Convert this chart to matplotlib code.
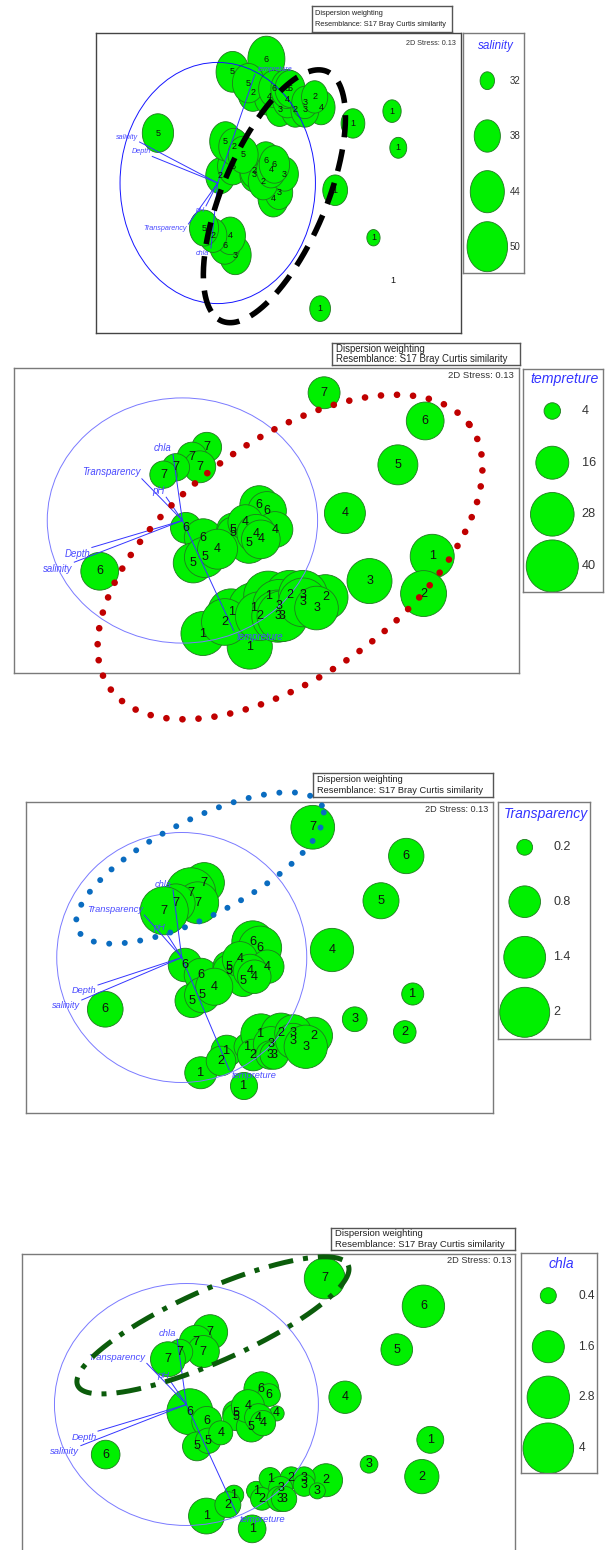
import numpy as np
import matplotlib.pyplot as plt
from matplotlib.path import Path
from matplotlib.patches import Ellipse

plt.rcParams['font.family'] = ['Liberation Sans', 'DejaVu Sans']

W, H = 610, 1550

# ---------------- MDS configuration (shared by all four plots) ----------------
mds_x = [1.048, 0.180, 0.072, 0.128, -0.048, -0.140,
         1.796, 0.026, 0.154, 0.568, 0.626, -0.612,
         1.594, 0.080, 0.164, 0.376, 0.376, 0.492,
         1.202, 0.260, 0.466, 0.684, 0.546, 0.580,
         1.848, 0.152, 0.360, 0.528, 0.634, 0.498,
         1.784, 0.314, 0.572, 0.794, 1.058,
         1.384, 0.714, 0.706, 0.740, 0.892, 0.892, 0.992]
mds_y = [1.042, 0.598, 0.518, 0.438, 0.434, 0.374,
         0.812, -0.060, -0.140, 0.126, 0.078, -0.414,
         0.454, -0.346, -0.300, -0.074, -0.106, -0.186,
         0.060, -0.234, -0.014, -0.074, -0.108, -0.154,
         -0.292, -0.922, -0.748, -0.714, -0.612, -1.028,
         -0.596, -0.828, -0.780, -0.606, -0.626,
         -0.494, -0.694, -0.780, -0.780, -0.606, -0.668, -0.714]
site = ['7'] * 6 + ['6'] * 6 + ['5'] * 6 + ['4'] * 6 + ['1'] * 6 + ['2'] * 5 + ['3'] * 7
site_p1 = ['1', '3', '6', '4', '2', '5',
           '1', '2', '6', '4', '3', '5',
           '1', '5', '2', '3', '2', '6',
           '1', '5', '2', '3', '4', '6',
           '1', '5', '2', '4', '3', '6',
           '1', '5', '6', '2', '4',
           '1', '4', '5', '5', '3', '3', '2']

salinity = [34.8, 42, 41, 41, 39, 40,
            29.4, 40, 41, 41, 39, 41.7,
            31.6, 42, 40.7, 40, 40, 41,
            37.1, 40.7, 40.7, 39, 40, 41,
            33.0, 43.1, 40.7, 40.7, 39.2, 46.6,
            33.6, 42.2, 40.7, 39.2, 39.2,
            36.5, 40.7, 42, 40.7, 39.2, 38, 38]
tempreture = [15, 13, 13, 15, 11, 11,
              21, 14, 21, 22, 22, 21,
              23.5, 23.5, 24, 16, 16, 23.5,
              24.7, 23.5, 18, 19, 22, 22,
              28.5, 28.5, 32, 38, 35, 30,
              31, 32, 35, 35, 30,
              29.8, 40, 40, 38, 35, 35, 28]
transparency = [1.53, 1.3, 2.0, 1.4, 1.2, 1.85,
                1.0, 0.9, 0.9, 1.4, 1.5, 1.02,
                1.04, 0.9, 1.0, 0.8, 0.8, 0.8,
                1.5, 1.1, 1.0, 0.9, 0.9, 0.9,
                0.39, 0.82, 0.8, 0.6, 1.3, 0.59,
                0.41, 0.7, 0.8, 1.3, 1.1,
                0.49, 1.0, 0.65, 0.65, 1.1, 1.0, 1.5]
chla = [2.6, 1.9, 1.7, 1.6, 1.0, 1.9,
        2.8, 3.3, 1.4, 1.9, 0.8, 1.28,
        1.56, 1.3, 1.0, 1.1, 1.1, 1.4,
        1.63, 0.9, 1.7, 0.35, 1.2, 1.0,
        1.13, 2.0, 0.6, 0.57, 0.75, 1.2,
        1.83, 1.05, 0.8, 0.75, 1.7,
        0.49, 0.9, 1.0, 1.0, 0.75, 0.75, 0.4]

# environmental vectors (correlations)
vec_names = ['chla', 'Transparency', 'pH', 'Depth', 'salinity', 'tempreture']
vec_x = [-0.07, -0.30, -0.12, -0.67, -0.80, 0.38]
vec_y = [0.54, 0.34, 0.19, -0.22, -0.34, -0.90]

# legend values
leg_salinity = [32, 38, 44, 50]
leg_tempreture = [4, 16, 28, 40]
leg_transparency = [0.2, 0.8, 1.4, 2]
leg_chla = [0.4, 1.6, 2.8, 4]

# hand drawn group outlines: centre and two conjugate half axes
ring1 = dict(c=(0.58, 0.11), a=(-0.576, 1.018), b=(0.444, 0.251))
ring2 = dict(c=(0.796, -0.298), a=(1.328, 1.078), b=(0.513, -0.768))
ring3 = dict(c=(0.146, 0.716), a=(0.975, 0.500), b=(-0.175, 0.342))
ring4 = dict(c=(0.201, 0.654), a=(1.025, 0.497), b=(0.111, -0.272))

XLIM = (-1.246, 2.490)
YLIM = (-1.244, 1.244)

t = np.linspace(0, 2 * np.pi, 60)
ell_marker = Path(np.column_stack([0.81 * np.cos(t), np.sin(t)]), closed=True)


def px_axes(fig, x0, y0, x1, y1):
    return fig.add_axes([x0 / W, 1 - y1 / H, (x1 - x0) / W, (y1 - y0) / H])


def bubble_s(v, k, v0):
    d = np.sqrt(np.clip(k * (np.asarray(v, float) - v0), 0, None))
    return (d * 72.0 / 100) ** 2


def plain(ax, col='#7a7a7a'):
    ax.set_xticks([])
    ax.set_yticks([])
    for s in ax.spines.values():
        s.set_color(col)
        s.set_linewidth(1.0)


def draw_panel(fig, box, labels, values, k, v0, flip, marker, lab_fs, vec_fs, circ_col,
               ring, ring_style, stress_fs, stress_xy, header, head_fs, legend):
    ax = px_axes(fig, *box)
    ax.set_xlim(XLIM)
    ax.set_ylim(YLIM[::-1] if flip else YLIM)
    plain(ax, '#444444' if flip else '#7a7a7a')
    ax.scatter(mds_x, mds_y, s=bubble_s(values, k, v0), marker=marker,
               facecolor='#00f000', edgecolor='#1f7a1f', linewidth=0.6, zorder=2)
    for x, y, l in zip(mds_x, mds_y, labels):
        ax.text(x, y, l, ha='center', va='center', fontsize=lab_fs, color='#111111', zorder=5)
    ax.add_patch(Ellipse((0, 0), 2, 2, fill=False, edgecolor=circ_col, lw=0.7, zorder=3))
    for n, vx, vy in zip(vec_names, vec_x, vec_y):
        ax.plot([0, vx], [0, vy], color='#3535ff', lw=0.7, zorder=3)
        up = (vy > 0) != flip
        ax.annotate(n, (vx, vy), xytext=(2 if vx > 0 else -1, 1 if up else -1),
                    textcoords='offset points', ha='left' if vx > 0 else 'right',
                    va='bottom' if up else 'top', fontsize=vec_fs, style='italic',
                    color='#4a4aff', zorder=4)
    tt = np.linspace(0, 2 * np.pi, 500)
    rx = ring['c'][0] + ring['a'][0] * np.cos(tt) + ring['b'][0] * np.sin(tt)
    ry = ring['c'][1] + ring['a'][1] * np.cos(tt) + ring['b'][1] * np.sin(tt)
    ax.plot(rx, ry, zorder=6, clip_on=False, **ring_style)
    ax.text(stress_xy[0], stress_xy[1], '2D Stress: 0.13', transform=ax.transAxes,
            ha='right', va='center', fontsize=stress_fs, color='#333333')

    hx = px_axes(fig, *header)
    plain(hx, '#555555')
    hx.set_xlim(0, 1)
    hx.set_ylim(0, 1)
    hx.text(0.02, 0.73, 'Dispersion weighting', fontsize=head_fs, va='center', color='#222222')
    hx.text(0.02, 0.27, 'Resemblance: S17 Bray Curtis similarity', fontsize=head_fs,
            va='center', color='#222222')

    lb, title, tfs, vals, cx, rows, lx, vfs = legend
    lx_ax = px_axes(fig, *lb)
    plain(lx_ax, '#7a7a7a')
    lw_, lh_ = lb[2] - lb[0], lb[3] - lb[1]
    lx_ax.set_xlim(0, lw_)
    lx_ax.set_ylim(lh_, 0)
    lx_ax.text(lw_ / 2 + 2, rows[0] - (rows[1] - rows[0]) * 0.62, title, ha='center', va='center',
               fontsize=tfs, style='italic', color='#3333ff')
    lx_ax.scatter([cx] * len(vals), rows, s=bubble_s(vals, k, v0), marker=marker,
                  facecolor='#00f000', edgecolor='#1f7a1f', linewidth=0.6)
    for r, v in zip(rows, vals):
        lx_ax.text(lx, r, str(v), ha='left', va='center', fontsize=vfs, color='#333333')
    return ax


fig = plt.figure(figsize=(W / 100, H / 100), dpi=100)

# panel 1 : salinity
draw_panel(fig, (96, 33, 461, 333), site_p1, salinity, 121.5, 29.4, True, ell_marker,
           6.5, 5.2, '#1515ff', ring1,
           dict(color='black', lw=4.0, linestyle=(0, (4, 2.2))),
           5.2, (0.986, 0.965), (312, 6, 452, 32), 5.3,
           ((463, 33, 524, 273), 'salinity', 8.4, leg_salinity, 24.3,
            [47.7, 103, 158.7, 213.7], 47, 7))

# panel 2 : tempreture
draw_panel(fig, (14, 368, 519, 673), site, tempreture, 68, 0, False, 'o',
           9, 6.9, '#7a7aff', ring2,
           dict(color='#c00000', lw=4.8, linestyle=(0, (0.01, 2.4)), dash_capstyle='round'),
           6.8, (0.99, 0.974), (332, 343, 520, 365), 6.9,
           ((523, 369, 603, 592), 'tempreture', 10.2, leg_tempreture, 29.3,
            [42, 93.7, 145.3, 197], 58.7, 9.2))

# panel 3 : Transparency
draw_panel(fig, (26, 802, 493, 1113), site, transparency, 1250, 0, False, 'o',
           9.2, 6.7, '#7a7aff', ring3,
           dict(color='#0a6cc0', lw=4.3, linestyle=(0, (0.01, 2.6)), dash_capstyle='round'),
           6.6, (0.99, 0.977), (313, 773, 493, 797), 6.7,
           ((498, 802, 590, 1039), 'Transparency', 10, leg_transparency, 26.7,
            [45.3, 99.7, 155.3, 210.3], 55, 9))

# panel 4 : chla
draw_panel(fig, (22, 1254, 515, 1555), site, chla, 642, 0, False, 'o',
           9, 6.8, '#7a7aff', ring4,
           dict(color='#0b5c0b', lw=3.6, linestyle=(0, (5, 2, 1, 2))),
           6.7, (0.992, 0.977), (331, 1228, 515, 1250), 6.8,
           ((521, 1253, 597, 1473), 'chla', 10, leg_chla, 27.3,
            [42.7, 93.7, 144.3, 195.3], 57.3, 8.6))

fig.savefig('out.png', dpi=100)
